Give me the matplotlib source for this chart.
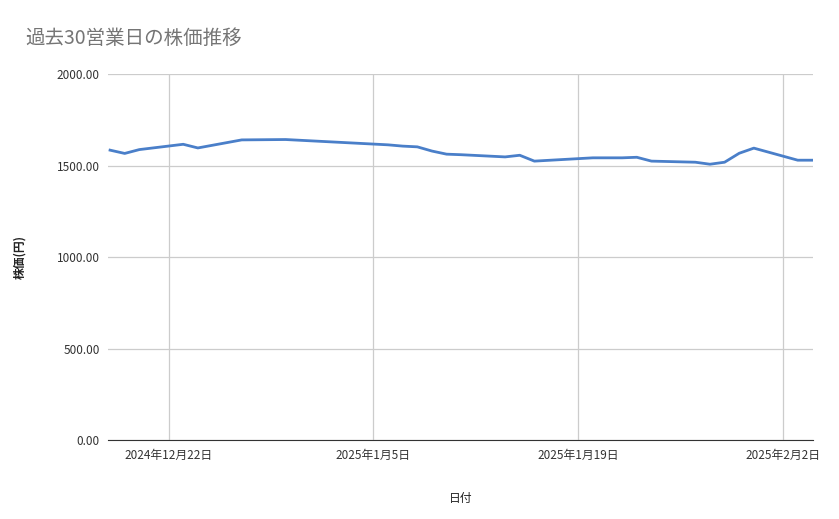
import matplotlib
matplotlib.use("Agg")
import matplotlib.pyplot as plt
import matplotlib.dates as mdates
import pandas as pd

plt.rcParams['font.family'] = ['Noto Sans CJK JP', 'DejaVu Sans']

dates = ["2024-12-18","2024-12-19","2024-12-20","2024-12-23","2024-12-24","2024-12-27",
         "2024-12-30","2025-01-06","2025-01-07","2025-01-08","2025-01-09","2025-01-10",
         "2025-01-11","2025-01-14","2025-01-15","2025-01-16","2025-01-20","2025-01-22",
         "2025-01-23","2025-01-24","2025-01-27","2025-01-28","2025-01-29","2025-01-30",
         "2025-01-31","2025-02-03","2025-02-04"]
prices = [1585,1567,1588,1617,1597,1641,1643,1614,1607,1603,1580,1563,
          1560,1548,1557,1525,1543,1543,1546,1525,1519,1508,1519,1568,
          1596,1530,1530]
tick_dates = ["2024-12-22","2025-01-05","2025-01-19","2025-02-02"]
tick_labels = ["2024年12月22日","2025年1月5日","2025年1月19日","2025年2月2日"]
yticks = [0,500,1000,1500,2000]

x = pd.to_datetime(dates)
fig = plt.figure(figsize=(8.39,5.19), dpi=100)
ax = fig.add_axes([0.129,0.152,0.840,0.705])
ax.plot(x, prices, color='#4a7fc9', lw=2)
ax.set_xlim(pd.Timestamp("2024-12-17 21:00"), pd.Timestamp("2025-02-04 01:00"))
ax.set_ylim(0,2000)
ax.set_yticks(yticks)
ax.set_yticklabels([f"{v:.2f}" for v in yticks])
ax.set_xticks(pd.to_datetime(tick_dates))
ax.set_xticklabels(tick_labels)
ax.grid(True, color='#cccccc', lw=0.9)
ax.set_axisbelow(True)
for s in ['top','right','left']:
    ax.spines[s].set_visible(False)
ax.spines['bottom'].set_color('#333333')
ax.tick_params(length=0, labelsize=8.5, colors='#333333', pad=6)
ax.set_ylabel("株価(円)", fontsize=8.5, fontweight='bold', color='#222222', labelpad=22)
ax.set_xlabel("日付", fontsize=8.5, color='#222222', labelpad=22)
fig.text(0.03, 0.925, "過去30営業日の株価推移", fontsize=14, color='#757575', va='center')
fig.savefig("out.png", dpi=100)
